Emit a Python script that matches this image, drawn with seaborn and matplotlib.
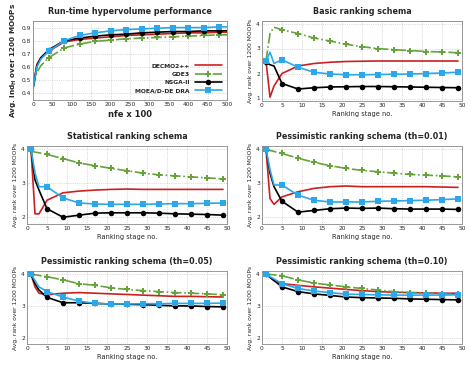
import numpy as np
import pandas as pd
import matplotlib.pyplot as plt
import seaborn as sns

# ---- data ----
algos = ['DECMO2++', 'GDE3', 'NSGA-II', 'MOEA/D-DE DRA']

nfe = [0, 10, 20, 40, 80, 120, 160, 200, 240, 280, 320, 360, 400, 440, 480, 500]
hv_decmo = [0.44, 0.62, 0.67, 0.72, 0.79, 0.81, 0.82, 0.83, 0.84, 0.845, 0.85, 0.855, 0.86, 0.86, 0.865, 0.865]
hv_gde3 = [0.44, 0.56, 0.61, 0.67, 0.745, 0.775, 0.795, 0.805, 0.815, 0.82, 0.825, 0.83, 0.835, 0.84, 0.845, 0.845]
hv_nsga = [0.44, 0.61, 0.67, 0.73, 0.80, 0.82, 0.835, 0.845, 0.85, 0.86, 0.865, 0.87, 0.87, 0.875, 0.875, 0.876]
hv_moead = [0.44, 0.60, 0.66, 0.72, 0.80, 0.84, 0.86, 0.875, 0.885, 0.89, 0.895, 0.90, 0.90, 0.90, 0.905, 0.905]

stages = [1, 2, 3, 5, 9, 13, 17, 21, 25, 29, 33, 37, 41, 45, 49]

basic = {
    'DECMO2++': [2.5, 1.05, 1.5, 2.0, 2.3, 2.4, 2.45, 2.48, 2.49, 2.5, 2.5, 2.5, 2.5, 2.5, 2.5],
    'GDE3': [2.5, 3.6, 3.85, 3.75, 3.6, 3.42, 3.3, 3.17, 3.07, 3.0, 2.95, 2.92, 2.88, 2.86, 2.83],
    'NSGA-II': [2.45, 2.35, 2.3, 1.6, 1.38, 1.43, 1.46, 1.47, 1.48, 1.48, 1.47, 1.46, 1.45, 1.44, 1.43],
    'MOEA/D-DE DRA': [2.5, 2.85, 2.4, 2.55, 2.25, 2.05, 1.98, 1.95, 1.95, 1.96, 1.97, 1.98, 2.0, 2.02, 2.05],
}
statistical = {
    'DECMO2++': [4.0, 2.1, 2.1, 2.5, 2.72, 2.77, 2.8, 2.82, 2.83, 2.82, 2.82, 2.82, 2.82, 2.82, 2.82],
    'GDE3': [3.95, 3.92, 3.9, 3.85, 3.73, 3.6, 3.52, 3.44, 3.37, 3.3, 3.25, 3.22, 3.19, 3.16, 3.13],
    'NSGA-II': [4.0, 3.1, 2.8, 2.25, 2.0, 2.06, 2.12, 2.13, 2.13, 2.13, 2.12, 2.1, 2.09, 2.08, 2.06],
    'MOEA/D-DE DRA': [4.0, 3.3, 2.9, 2.9, 2.57, 2.42, 2.39, 2.38, 2.38, 2.38, 2.39, 2.4, 2.4, 2.41, 2.42],
}
pess_001 = {
    'DECMO2++': [4.0, 2.55, 2.38, 2.6, 2.75, 2.85, 2.9, 2.92, 2.9, 2.9, 2.9, 2.9, 2.9, 2.89, 2.88],
    'GDE3': [4.0, 3.97, 3.94, 3.88, 3.74, 3.62, 3.52, 3.44, 3.38, 3.34, 3.3, 3.26, 3.24, 3.22, 3.19],
    'NSGA-II': [4.0, 3.3, 2.9, 2.47, 2.15, 2.2, 2.25, 2.27, 2.26, 2.27, 2.25, 2.24, 2.24, 2.24, 2.23],
    'MOEA/D-DE DRA': [4.0, 3.4, 2.95, 2.95, 2.65, 2.5, 2.45, 2.45, 2.45, 2.47, 2.48, 2.49, 2.5, 2.52, 2.54],
}
pess_005 = {
    'DECMO2++': [4.0, 3.6, 3.4, 3.35, 3.4, 3.42, 3.4, 3.38, 3.36, 3.34, 3.32, 3.3, 3.3, 3.29, 3.28],
    'GDE3': [4.0, 3.98, 3.96, 3.92, 3.82, 3.7, 3.65, 3.57, 3.52, 3.48, 3.45, 3.42, 3.4, 3.38, 3.35],
    'NSGA-II': [4.0, 3.7, 3.5, 3.27, 3.1, 3.1, 3.08, 3.06, 3.05, 3.04, 3.02, 3.0, 3.0, 2.98, 2.97],
    'MOEA/D-DE DRA': [4.0, 3.8, 3.6, 3.45, 3.28, 3.15, 3.08, 3.06, 3.06, 3.07, 3.07, 3.08, 3.08, 3.08, 3.09],
}
pess_010 = {
    'DECMO2++': [4.0, 3.9, 3.8, 3.7, 3.65, 3.6, 3.56, 3.52, 3.48, 3.45, 3.43, 3.42, 3.41, 3.4, 3.4],
    'GDE3': [4.0, 3.99, 3.98, 3.95, 3.82, 3.72, 3.66, 3.6, 3.55, 3.5, 3.45, 3.42, 3.4, 3.38, 3.36],
    'NSGA-II': [4.0, 3.9, 3.8, 3.6, 3.45, 3.38, 3.33, 3.28, 3.26, 3.25, 3.24, 3.22, 3.21, 3.2, 3.19],
    'MOEA/D-DE DRA': [4.0, 3.92, 3.85, 3.7, 3.55, 3.47, 3.42, 3.37, 3.36, 3.35, 3.34, 3.34, 3.34, 3.34, 3.35],
}

titles = ['Run-time hypervolume performance', 'Basic ranking schema',
          'Statistical ranking schema', 'Pessimistic ranking schema (th=0.01)',
          'Pessimistic ranking schema (th=0.05)', 'Pessimistic ranking schema (th=0.10)']

# ---- styles ----
styles = {
    'DECMO2++': dict(color='#cc2020', linestyle='-', marker=None, lw=1.2),
    'GDE3': dict(color='#66a33a', linestyle='-.', marker='P', lw=1.2, ms=4),
    'NSGA-II': dict(color='black', linestyle='-', marker='o', lw=1.2, ms=4),
    'MOEA/D-DE DRA': dict(color='#2ba8ea', linestyle='-', marker='s', lw=1.2, ms=4.6),
}

sns.set_theme(style='whitegrid')
plt.rcParams['font.family'] = ['DejaVu Sans']

fig = plt.figure(figsize=(4.71, 3.67), dpi=100)
W, H = 471, 367


def make_ax(x0, x1, y0, y1):
    return fig.add_axes([x0 / W, 1 - y1 / H, (x1 - x0) / W, (y1 - y0) / H])


def style_ax(ax, title, xlabel, ylabel, bold=False):
    ax.set_title(title, fontsize=5.8, fontweight='bold', pad=5)
    w = 'bold' if bold else 'normal'
    ax.set_xlabel(xlabel, fontsize=6 if bold else 4.8, fontweight=w, labelpad=2)
    ax.set_ylabel(ylabel, fontsize=5.2 if bold else 4.3, fontweight=w, labelpad=2)
    ax.tick_params(labelsize=4.2, pad=1.5, length=0)
    ax.grid(True, linestyle=':', color='#bbbbbb', linewidth=0.5)
    for s in ax.spines.values():
        s.set_color('#888888')
        s.set_linewidth(0.6)


# top-left: hypervolume
ax = make_ax(33, 227, 21, 100)
hv = {'DECMO2++': hv_decmo, 'GDE3': hv_gde3, 'NSGA-II': hv_nsga, 'MOEA/D-DE DRA': hv_moead}
for a in algos:
    st = styles[a]
    sns.lineplot(x=nfe, y=hv[a], ax=ax, color=st['color'], linestyle=st['linestyle'],
                 marker=st['marker'], markersize=st.get('ms', 0), linewidth=st['lw'],
                 markevery=list(range(3, 15)), markeredgewidth=0, label=a)
ax.set_xlim(0, 500)
ax.set_ylim(0.35, 0.95)
ax.set_xticks(range(0, 501, 50))
ax.set_yticks([0.4, 0.5, 0.6, 0.7, 0.8, 0.9])
style_ax(ax, titles[0], 'nfe x 100', 'Avg. Ind$_\\mathbf{H}$ over 1200 MOOPs', bold=True)
ax.legend(loc='lower right', frameon=False, markerfirst=False,
          prop={'size': 4.3, 'weight': 'bold'}, handlelength=4.5, labelspacing=0.5,
          bbox_to_anchor=(1.0, 0.02))

panels = [
    (basic, (262, 462, 21, 101), titles[1], (0.9, 4.1), [1, 2, 3, 4]),
    (statistical, (27, 227, 146, 224), titles[2], (1.8, 4.1), [2, 3, 4]),
    (pess_001, (262, 462, 146, 224), titles[3], (1.8, 4.1), [2, 3, 4]),
    (pess_005, (27, 227, 271, 344), titles[4], (1.8, 4.1), [2, 3, 4]),
    (pess_010, (262, 462, 271, 344), titles[5], (1.8, 4.1), [2, 3, 4]),
]
marks = [0] + list(range(3, len(stages)))
for data, box, title, ylim, yt in panels:
    ax = make_ax(*box)
    for a in algos:
        st = styles[a]
        sns.lineplot(x=stages, y=data[a], ax=ax, color=st['color'], linestyle=st['linestyle'],
                     marker=st['marker'], markersize=st.get('ms', 0), linewidth=st['lw'],
                     markevery=marks, markeredgewidth=0, legend=False)
    ax.set_xlim(0, 50)
    ax.set_ylim(*ylim)
    ax.set_xticks(range(0, 51, 5))
    ax.set_yticks(yt)
    style_ax(ax, title, 'Ranking stage no.', 'Avg. rank over 1200 MOOPs')

fig.savefig('out.png', dpi=100)
